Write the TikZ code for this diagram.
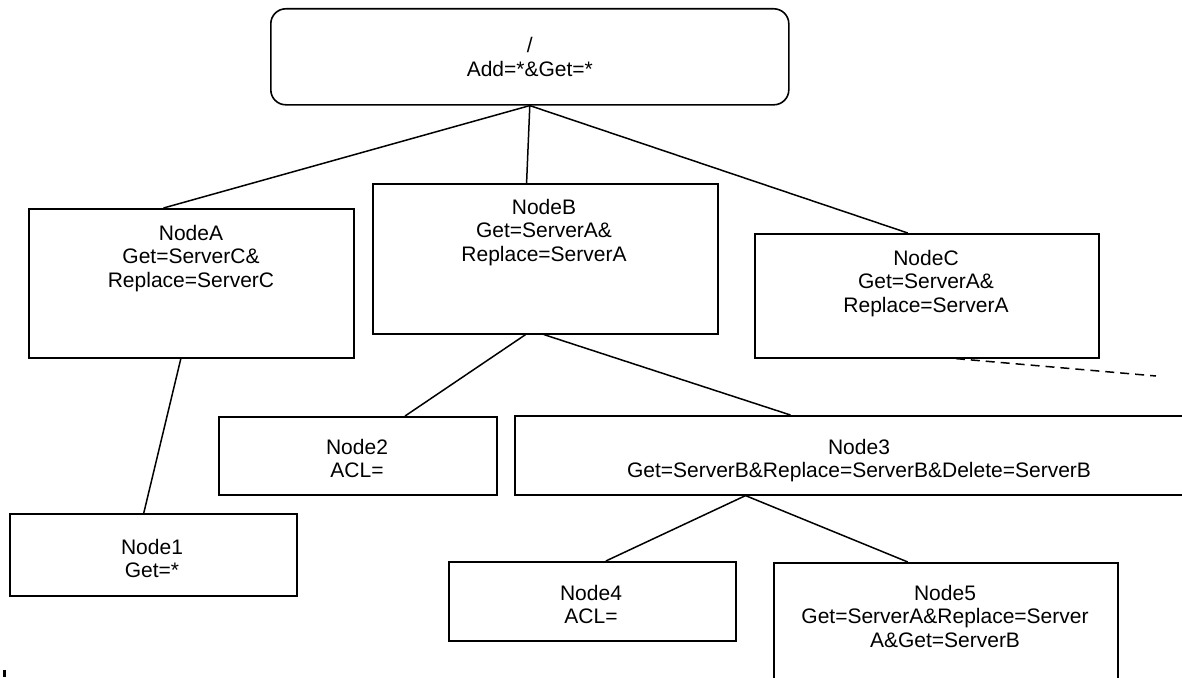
\documentclass[tikz,border=0pt]{standalone}
\usepackage{fontspec}
\setmainfont{Liberation Sans}
\usetikzlibrary{calc}
\begin{document}
\begin{tikzpicture}[x=1pt,y=-1pt,
  box/.style={draw, line width=1.6pt, anchor=north west, inner sep=0pt},
  lbl/.style={align=center, inner sep=0pt, anchor=north, font=\fontsize{21}{23.5}\selectfont},
  conn/.style={line width=1.5pt},
  dashconn/.style={line width=1.5pt, dash pattern=on 9pt off 6pt}]
\useasboundingbox (0,0) rectangle (1182,677);
% root
\node[box, rounded corners=15pt, minimum width=518pt, minimum height=96pt, align=center,
      font=\fontsize{21}{23.5}\selectfont] (root) at (270,8) {/\\Add=*\&Get=*};
% boxes
\node[box, minimum width=325pt, minimum height=149pt] (A) at (28,208) {};
\node[box, minimum width=345pt, minimum height=150pt] (B) at (372,183) {};
\node[box, minimum width=344pt, minimum height=124pt] (C) at (754,233) {};
\node[box, minimum width=287pt, minimum height=82pt] (N1) at (9,513) {};
\node[box, minimum width=278pt, minimum height=78pt] (N2) at (218,416) {};
\node[box, minimum width=700pt, minimum height=79pt] (N3) at (514,415) {};
\node[box, minimum width=287pt, minimum height=79pt] (N4) at (448,561) {};
\node[box, minimum width=344pt, minimum height=130pt] (N5) at (773,562) {};
% labels
\node[lbl] (At) at (191,225) {NodeA\\Get=ServerC\&\\Replace=ServerC};
\node[lbl] (Bt) at (544,199) {NodeB\\Get=ServerA\&\\Replace=ServerA};
\node[lbl] (Ct) at (926,250) {NodeC\\Get=ServerA\&\\Replace=ServerA};
\node[lbl] (N1t) at (152,539) {Node1\\Get=*};
\node[lbl] (N2t) at (357,439) {Node2\\ACL=};
\node[lbl] (N3t) at (859,439) {Node3\\Get=ServerB\&Replace=ServerB\&Delete=ServerB};
\node[lbl] (N4t) at (591,585) {Node4\\ACL=};
\node[lbl] (N5t) at (945,585) {Node5\\Get=ServerA\&Replace=Server\\A\&Get=ServerB};
% connectors
\draw[conn] (root.south) -- ($(A.north west)!0.415!(A.north east)$);
\draw[conn] (root.south) -- ($(B.north west)!0.446!(B.north east)$);
\draw[conn] (root.south) -- ($(C.north west)!0.445!(C.north east)$);
\draw[conn] ($(A.south west)!0.468!(A.south east)$) -- ($(N1.north west)!0.467!(N1.north east)$);
\draw[conn] ($(B.south west)!0.443!(B.south east)$) -- ($(N2.north west)!0.669!(N2.north east)$);
\draw[conn] ($(B.south west)!0.496!(B.south east)$) -- ($(N3.north west)!0.394!(N3.north east)$);
\draw[conn] ($(N3.south west)!0.33!(N3.south east)$) -- ($(N4.north west)!0.547!(N4.north east)$);
\draw[conn] ($(N3.south west)!0.33!(N3.south east)$) -- ($(N5.north west)!0.39!(N5.north east)$);
\coordinate (dashend) at (1156,376);
\draw[dashconn] ($(C.south west)!0.584!(C.south east)$) -- (dashend);
% small mark at bottom left
\fill (3,670) rectangle (6,677);
\end{tikzpicture}
\end{document}
